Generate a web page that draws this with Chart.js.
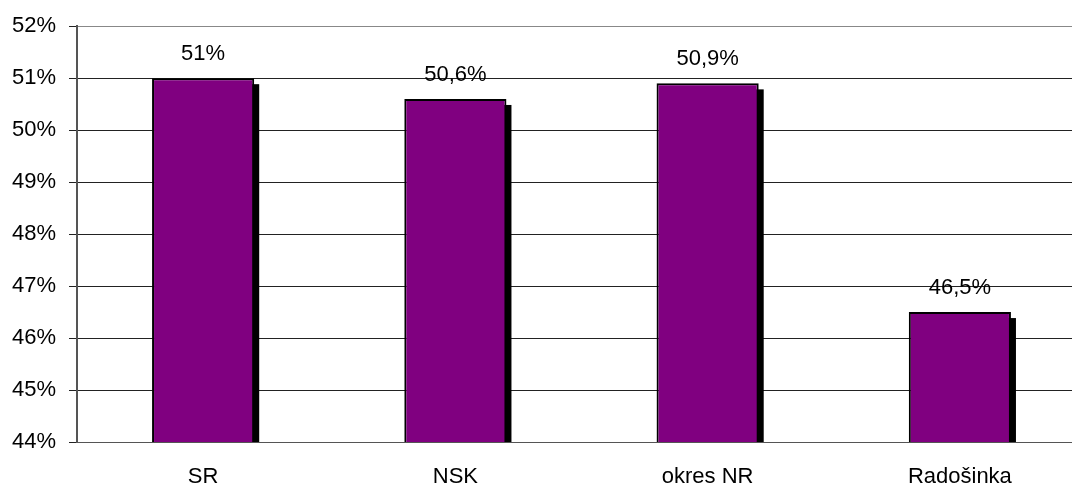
<!DOCTYPE html>
<html>
<head>
<meta charset="utf-8">
<script src="https://cdn.jsdelivr.net/npm/chart.js@4/dist/chart.umd.min.js"></script>
<style>
  html, body { margin: 0; padding: 0; background: #fff; overflow: hidden; }
  #wrap { width: 1086px; height: 484px; position: relative; }
</style>
</head>
<body>
<div id="wrap"><canvas id="c"></canvas></div>
<script>
// Share of values per area (percent)
const categories = ['SR', 'NSK', 'okres NR', 'Radošinka'];
const values = [51, 50.6, 50.9, 46.5];
const valueLabels = ['51%', '50,6%', '50,9%', '46,5%'];
const yTicks = [44, 45, 46, 47, 48, 49, 50, 51, 52];

const FONT = 'Arial, "Liberation Sans", sans-serif';

// Black drop shadow behind each bar, offset right and down
const barShadow = {
  id: 'barShadow',
  beforeDatasetsDraw(chart) {
    const ctx = chart.ctx;
    const area = chart.chartArea;
    const meta = chart.getDatasetMeta(0);
    ctx.save();
    ctx.fillStyle = '#000';
    meta.data.forEach(bar => {
      const left = bar.x - bar.width / 2 + 5;
      const top = bar.y + 6;
      const bottom = Math.min(bar.base, area.bottom);
      ctx.fillRect(left, top, bar.width, bottom - top);
    });
    ctx.restore();
  }
};

// Value labels above bars
const valueText = {
  id: 'valueText',
  afterDatasetsDraw(chart) {
    const ctx = chart.ctx;
    const meta = chart.getDatasetMeta(0);
    ctx.save();
    ctx.font = '22px ' + FONT;
    ctx.fillStyle = '#000';
    ctx.textAlign = 'center';
    ctx.textBaseline = 'alphabetic';
    meta.data.forEach((bar, i) => {
      ctx.fillText(valueLabels[i], bar.x, bar.y - 18);
    });
    ctx.restore();
  }
};

new Chart(document.getElementById('c'), {
  type: 'bar',
  data: {
    labels: categories,
    datasets: [{
      data: values,
      backgroundColor: '#800080',
      borderColor: '#000',
      borderWidth: 2,
      borderSkipped: 'bottom',
      categoryPercentage: 1,
      barPercentage: 0.405
    }]
  },
  options: {
    responsive: true,
    maintainAspectRatio: false,
    animation: false,
    devicePixelRatio: 1,
    layout: { padding: { left: 0, right: 0, top: 24, bottom: 0 } },
    plugins: { legend: { display: false }, tooltip: { enabled: false } },
    scales: {
      x: {
        grid: { display: false, drawTicks: false },
        border: { display: true, color: '#555', width: 1 },
        ticks: { color: '#000', font: { family: FONT, size: 22 }, padding: 22, maxRotation: 0 },
        afterFit(scale) { scale.height = 42; }
      },
      y: {
        min: 44,
        max: 52,
        afterBuildTicks(scale) { scale.ticks = yTicks.map(v => ({ value: v })); },
        grid: {
          color: ctx => (ctx.tick && ctx.tick.value === 52) ? '#888' : '#222',
          lineWidth: 1,
          tickLength: 8,
          tickColor: '#222'
        },
        border: { display: true, color: '#555', width: 2 },
        ticks: {
          color: '#000',
          font: { family: FONT, size: 22 },
          padding: 13,
          callback: v => v + '%'
        },
        afterFit(scale) { scale.width = 77; }
      }
    }
  },
  plugins: [barShadow, valueText]
});
</script>
</body>
</html>
